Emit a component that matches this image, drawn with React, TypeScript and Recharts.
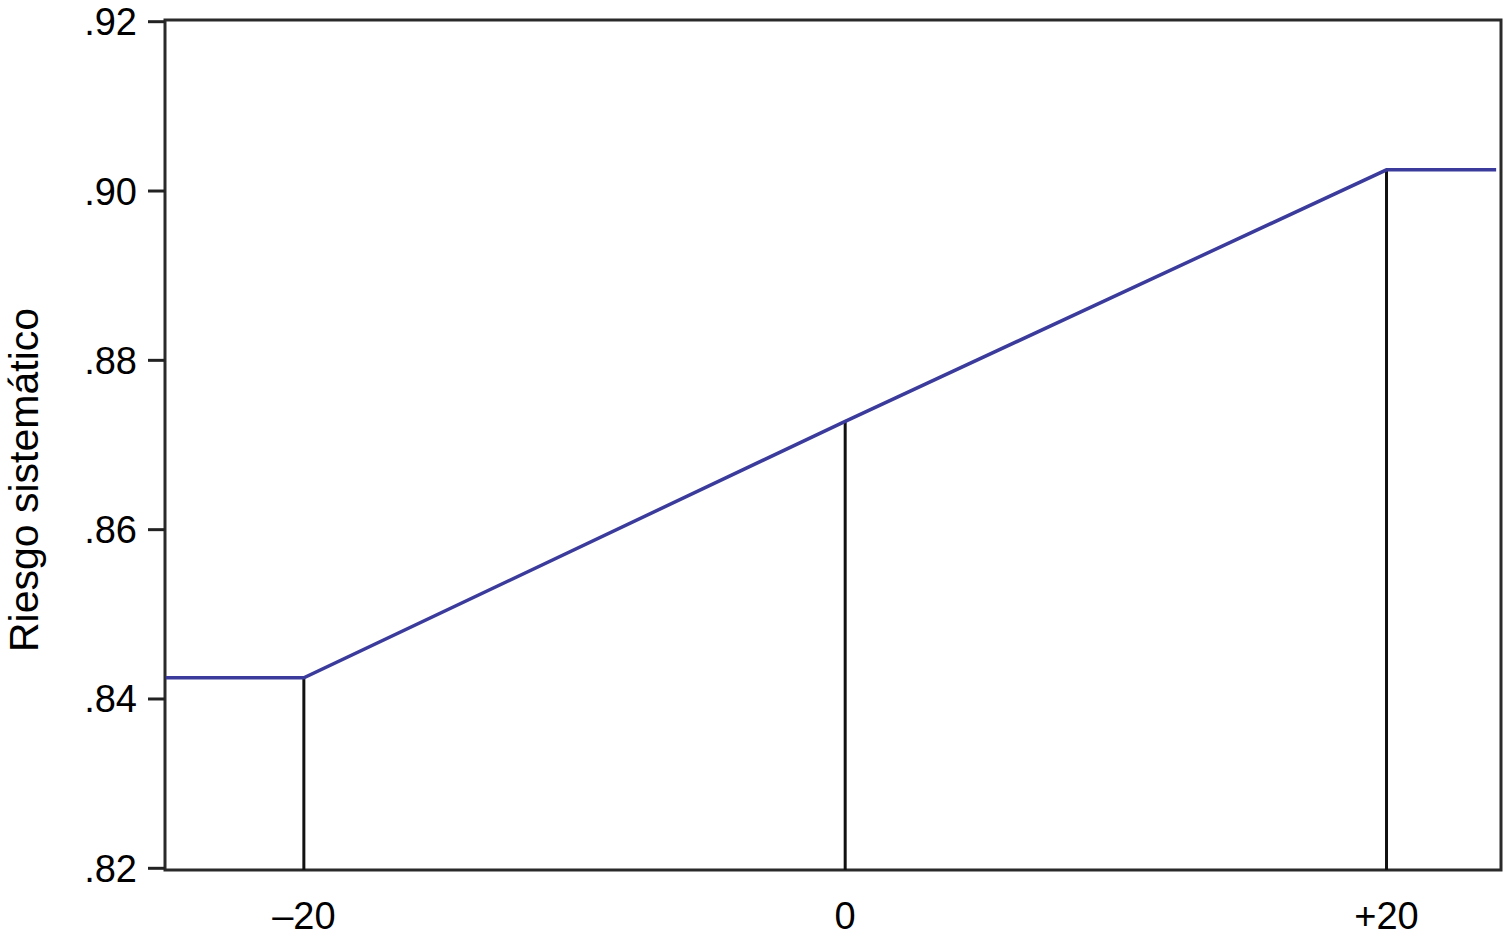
import React from 'react';
import { ComposedChart, Line, XAxis, YAxis, ReferenceLine, ReferenceArea, Label } from 'recharts';

const lineX = [-25.1, -20, 0, 20, 24.05];
const lineY = [0.8425, 0.8425, 0.8728, 0.9025, 0.9025];
const dropX = [-20, 0, 20];
const dropY = [0.8425, 0.8728, 0.9025];
const xTicks = [-20, 0, 20];
const yTicks = [0.82, 0.84, 0.86, 0.88, 0.9, 0.92];
const xDomain: [number, number] = [-25.13, 24.23];
const yDomain: [number, number] = [0.8198, 0.9202];

const data = lineX.map((x, i) => ({ x, y: lineY[i] }));

const FONT = '"Liberation Sans", Arial, sans-serif';

const fmtY = (v: number) => v.toFixed(2).replace(/^0/, '');
const fmtX = (v: number) => (v < 0 ? '–' + Math.abs(v) : v > 0 ? '+' + v : '0');

export default function App() {
  return (
    <div style={{ position: 'absolute', left: 0, top: 0, background: '#fff' }}>
      <ComposedChart
        width={1506}
        height={938}
        data={data}
        margin={{ top: 20, right: 5, bottom: 0, left: 0 }}
      >
        <XAxis
          type="number"
          dataKey="x"
          domain={xDomain}
          ticks={xTicks}
          tickFormatter={fmtX}
          allowDataOverflow
          axisLine={false}
          tickLine={false}
          tickSize={0}
          tickMargin={32}
          height={68}
          tick={{ fill: '#000', fontSize: 38, fontFamily: FONT }}
        />
        <YAxis
          type="number"
          domain={yDomain}
          ticks={yTicks}
          tickFormatter={fmtY}
          allowDataOverflow
          width={165}
          axisLine={false}
          tickLine={{ stroke: '#222', strokeWidth: 3 }}
          tickSize={17}
          tickMargin={11}
          tick={{ fill: '#000', fontSize: 38, fontFamily: FONT }}
        >
          <Label
            content={(props: any) => {
              const vb = props.viewBox || { x: 0, y: 20, height: 850 };
              const cx = 24;
              const cy = vb.y + vb.height / 2 + 35;
              return (
                <text
                  x={cx}
                  y={cy}
                  transform={`rotate(-90 ${cx} ${cy})`}
                  textAnchor="middle"
                  dominantBaseline="central"
                  fill="#000"
                  fontSize={41}
                  fontFamily={FONT}
                >
                  Riesgo sistemático
                </text>
              );
            }}
          />
        </YAxis>
        <ReferenceArea
          x1={xDomain[0]}
          x2={xDomain[1]}
          y1={yDomain[0]}
          y2={yDomain[1]}
          fill="none"
          fillOpacity={0}
          stroke="#2a2a2a"
          strokeWidth={3}
          ifOverflow="visible"
        />
        {dropX.map((x, i) => (
          <ReferenceLine
            key={x}
            segment={[
              { x, y: yDomain[0] },
              { x, y: dropY[i] },
            ]}
            stroke="#111"
            strokeWidth={3}
            ifOverflow="visible"
          />
        ))}
        <Line
          type="linear"
          dataKey="y"
          stroke="#3b3b9c"
          strokeWidth={3.5}
          dot={false}
          activeDot={false}
          isAnimationActive={false}
        />
      </ComposedChart>
    </div>
  );
}
